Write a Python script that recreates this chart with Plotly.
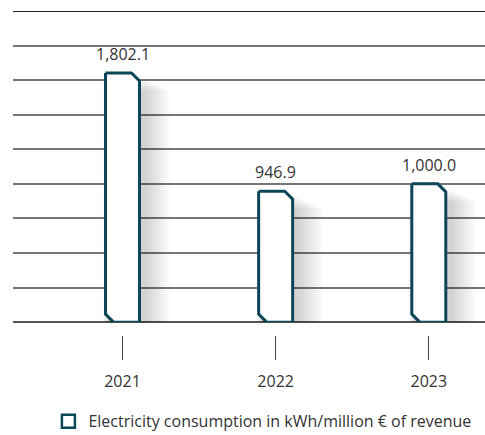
import plotly.graph_objects as go

years = ["2021", "2022", "2023"]
values = [1802.1, 946.9, 1000.0]
labels = ["1,802.1", "946.9", "1,000.0"]
series_name = "Electricity consumption in kWh/million € of revenue"

BAR = "#0d4757"
FONT = "Open Sans, sans-serif"
XR = [-0.715, 2.367]
YR = [0, 2250]
PX_X = (XR[1] - XR[0]) / 472.0
PX_Y = (YR[1] - YR[0]) / 311.0

fig = go.Figure()

w = 34 * PX_X
cx = 8 * PX_X
cy = 8 * PX_Y
xpos = list(range(len(years)))

# soft shadows
for i, v in zip(xpos, values):
    for k in range(1, 12):
        e = k * 2.3
        dx, dy = 5 * PX_X, -5 * PX_Y
        x0 = i - w / 2 + dx - e * PX_X * 0.3
        x1 = i + w / 2 + dx + e * PX_X
        y0 = 0 + dy - e * PX_Y
        y1 = v + dy - e * PX_Y * 0.5
        fig.add_trace(go.Scatter(
            x=[x0, x1, x1, x0, x0], y=[y1, y1, y0, y0, y1],
            fill="toself", mode="none", fillcolor="rgba(0,0,0,0.016)",
            showlegend=False, hoverinfo="skip"))

for i, v in zip(xpos, values):
    x0, x1 = i - w / 2, i + w / 2
    fig.add_trace(go.Scatter(
        x=[x0, x1 - cx, x1, x1, x0 + cx, x0, x0],
        y=[v, v, v - cy, 0, 0, cy, v],
        fill="toself", fillcolor="white", mode="lines",
        line=dict(color=BAR, width=3), showlegend=False, hoverinfo="skip"))

annotations = [dict(x=i, y=v, text=t, xref="x", yref="y", showarrow=False,
                    yanchor="bottom", yshift=6,
                    font=dict(family=FONT, size=16, color="#333333"))
               for i, v, t in zip(xpos, values, labels)]

fig.add_trace(go.Scatter(
    x=[None], y=[None], mode="markers", name=series_name,
    marker=dict(symbol="square-open", size=13, color=BAR, line=dict(width=2.5, color=BAR))))

fig.update_layout(
    width=485, height=435,
    margin=dict(l=13, r=0, t=11, b=50, autoexpand=False),
    paper_bgcolor="white", plot_bgcolor="white",
    font=dict(family=FONT, size=16, color="#333333"),
    xaxis=dict(range=XR, tickvals=xpos, ticktext=years, showgrid=False,
               zeroline=False, showline=False, ticks="outside", ticklen=24,
               tickcolor="#444444", tickwidth=1, anchor="free", position=0.134,
               ticklabelstandoff=8,
               tickfont=dict(family=FONT, size=16, color="#333333")),
    yaxis=dict(range=YR, dtick=250, showticklabels=False, showgrid=True,
               gridcolor="#777777", gridwidth=1.5, zeroline=True,
               zerolinecolor="#555555", zerolinewidth=2, domain=[0.168, 1]),
    shapes=[dict(type="line", xref="paper", yref="y", x0=0, x1=1, y0=YR[1], y1=YR[1],
                 line=dict(color="#222222", width=2))],
    annotations=annotations,
    showlegend=True,
    legend=dict(orientation="h", x=0.075, xanchor="left", y=-0.097, yanchor="middle",
                font=dict(family=FONT, size=16, color="#333333"), itemwidth=30,
                bgcolor="rgba(0,0,0,0)"),
)

fig.write_html("out.html", config={"displayModeBar": False},
               post_script="document.body.style.margin='0';document.body.style.overflow='hidden';")
